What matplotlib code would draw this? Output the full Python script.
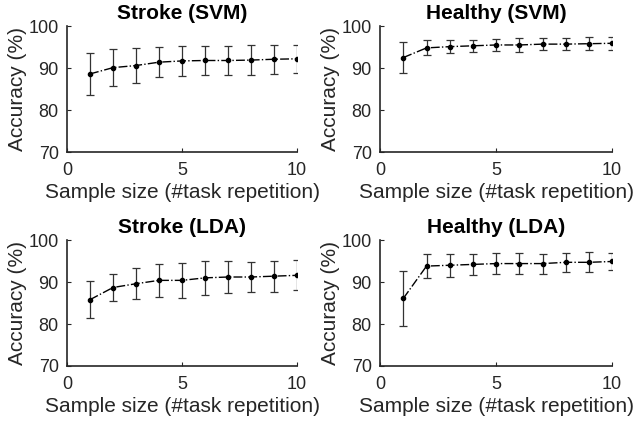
import matplotlib
matplotlib.use("Agg")
import matplotlib.pyplot as plt
import numpy as np

sample_size = np.arange(1, 11)

stroke_svm_mean = [88.6, 90.1, 90.6, 91.4, 91.7, 91.8, 91.8, 91.9, 92.1, 92.2]
stroke_svm_err = [5.1, 4.4, 4.1, 3.5, 3.6, 3.5, 3.5, 3.5, 3.5, 3.3]
healthy_svm_mean = [92.5, 94.8, 95.1, 95.3, 95.5, 95.5, 95.7, 95.7, 95.8, 95.9]
healthy_svm_err = [3.7, 1.8, 1.5, 1.4, 1.5, 1.7, 1.4, 1.4, 1.5, 1.5]
stroke_lda_mean = [85.8, 88.7, 89.6, 90.4, 90.4, 91.0, 91.2, 91.2, 91.4, 91.6]
stroke_lda_err = [4.45, 3.2, 3.75, 3.9, 4.2, 4.0, 3.8, 3.6, 3.7, 3.6]
healthy_lda_mean = [86.1, 93.8, 94.0, 94.2, 94.4, 94.4, 94.4, 94.7, 94.7, 94.9]
healthy_lda_err = [6.6, 2.9, 2.7, 2.6, 2.5, 2.6, 2.4, 2.2, 2.4, 2.1]

titles = ["Stroke (SVM)", "Healthy (SVM)", "Stroke (LDA)", "Healthy (LDA)"]
means = [stroke_svm_mean, healthy_svm_mean, stroke_lda_mean, healthy_lda_mean]
errs = [stroke_svm_err, healthy_svm_err, stroke_lda_err, healthy_lda_err]

ink = "#262626"
plt.rcParams["font.family"] = ["Liberation Sans", "DejaVu Sans"]

fig = plt.figure(figsize=(6.41, 4.24), dpi=100)
positions = [
    [0.1045, 0.6415, 0.359, 0.297],
    [0.593, 0.6415, 0.362, 0.297],
    [0.1045, 0.1368, 0.359, 0.297],
    [0.593, 0.1368, 0.362, 0.297],
]

for pos, title, m, e in zip(positions, titles, means, errs):
    ax = fig.add_axes(pos)
    ax.errorbar(sample_size, m, yerr=e, color="black", ecolor="#333333",
                linestyle="-.", linewidth=1.0, marker="o", markersize=3,
                elinewidth=0.9, capsize=3, capthick=0.9)
    ax.set_xlim(0, 10)
    ax.set_ylim(70, 100)
    ax.set_xticks([0, 5, 10])
    ax.set_yticks([70, 80, 90, 100])
    ax.spines["top"].set_visible(False)
    ax.spines["right"].set_visible(False)
    for side in ("left", "bottom"):
        ax.spines[side].set_color(ink)
        ax.spines[side].set_linewidth(1.2)
    ax.tick_params(axis="x", direction="in", length=3, colors=ink, labelsize=13, pad=7)
    ax.tick_params(axis="y", direction="in", length=3, colors=ink, labelsize=13, pad=6)
    ax.set_title(title, fontweight="bold", color="black", fontsize=15, pad=5)
    ax.set_xlabel("Sample size (#task repetition)", color=ink, fontsize=15, labelpad=3)
    ax.set_ylabel("Accuracy (%)", color=ink, fontsize=15, labelpad=1)

fig.savefig("out.png", dpi=100)
plt.close(fig)
